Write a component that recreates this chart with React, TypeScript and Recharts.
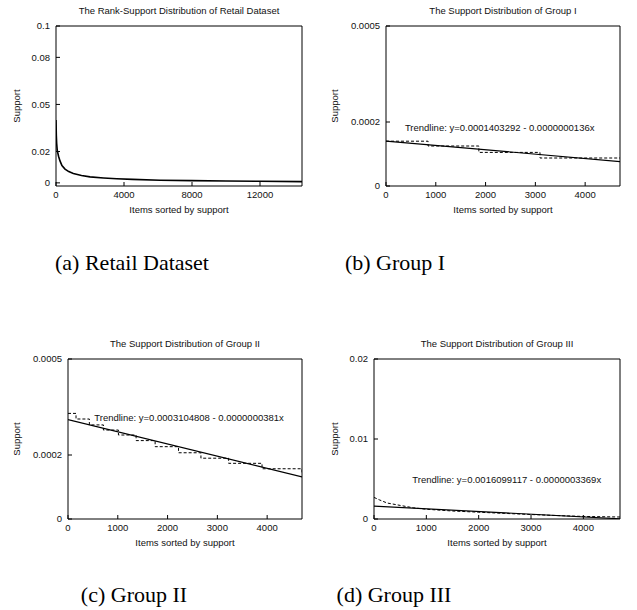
import { LineChart, Line, XAxis, YAxis, ReferenceDot } from 'recharts'

const SANS = '"Liberation Sans", Arial, Helvetica, sans-serif'
const SERIF = '"Liberation Serif", "Times New Roman", serif'
const INK = '#111'

// (a) Retail dataset: items ranked by support
const retailRank = [0, 20, 40, 76, 150, 235, 350, 530, 750, 1020, 1500, 2000, 2800, 3570, 4500, 6120, 8000, 10000, 12000, 14470]
const retailSupport = [0.04, 0.03, 0.025, 0.0205, 0.017, 0.014, 0.011, 0.0088, 0.0072, 0.006, 0.0047, 0.0038, 0.0031, 0.0026, 0.0022, 0.0017, 0.0014, 0.0012, 0.001, 0.0008]
const retailXTicks = [0, 4000, 8000, 12000]
const retailYTicks = [0, 0.02, 0.05, 0.08, 0.1]

// (b) Group I - stepped support values + trendline end points
const g1Rank = [0, 845, 1865, 3093, 4700]
const g1Support = [0.00014, 0.000125, 0.000105, 0.0000875, 0.0000875]
const g1TrendX = [0, 4700]
const g1TrendY = [0.0001403292, 0.0000764]

// (c) Group II
const g2Rank = [0, 161, 429, 711, 1013, 1368, 1750, 2220, 2670, 3226, 3897, 4700]
const g2Support = [0.00033, 0.0003125, 0.000294, 0.000278, 0.0002625, 0.000245, 0.000226, 0.000207, 0.00019, 0.000174, 0.000157, 0.00014]
const g2TrendX = [0, 4700]
const g2TrendY = [0.0003104808, 0.0001314]

// (d) Group III
const g3Rank = [0, 100, 250, 500, 750, 1000, 1500, 2000, 2500, 3000, 3500, 4000, 4700]
const g3Support = [0.0027, 0.0024, 0.002, 0.0017, 0.0014, 0.00122, 0.001, 0.00085, 0.0007, 0.00056, 0.00043, 0.00032, 0.00025]
const g3TrendX = [0, 4700]
const g3TrendY = [0.0016099117, 0.0000265]

const groupXTicks = [0, 1000, 2000, 3000, 4000]
const smallYTicks = [0, 0.0002, 0.0005]
const g3YTicks = [0, 0.01, 0.02]

type Pt = { x: number; y: number }
const zip = (xs: number[], ys: number[]): Pt[] => xs.map((x, i) => ({ x, y: ys[i] }))

interface PanelProps {
  left: number
  top: number
  width: number
  axisW: number
  plotW: number
  title: string
  xDomain: [number, number]
  xTicks: number[]
  yDomain: [number, number]
  yTicks: number[]
  data: Pt[]
  step?: boolean
  trend?: Pt[]
  trendText?: string
  trendAt?: Pt
}

const HEIGHT = 230
const PLOT_H = 160

function Centered({ x, y, text, rotate }: { x: number; y: number; text: string; rotate?: boolean }) {
  return (
    <div
      style={{
        position: 'absolute',
        left: x,
        top: y,
        transform: `translate(-50%, -50%)${rotate ? ' rotate(-90deg)' : ''}`,
        whiteSpace: 'nowrap',
        fontSize: 9.5,
        lineHeight: 1,
        color: INK,
        fontFamily: SANS,
      }}
    >
      {text}
    </div>
  )
}

function Panel(p: PanelProps) {
  const mRight = p.width - p.axisW - p.plotW - 1
  const mBottom = HEIGHT - 25 - 1 - PLOT_H - 30
  const cx = p.axisW + p.plotW / 2
  const tickStyle = { fontSize: 9.5, fill: INK, fontFamily: SANS }

  return (
    <div style={{ position: 'absolute', left: p.left, top: p.top, width: p.width, height: HEIGHT }}>
      <LineChart width={p.width} height={HEIGHT} margin={{ top: 25, right: mRight, bottom: mBottom, left: 0 }}>
        <XAxis
          xAxisId={0}
          dataKey="x"
          type="number"
          domain={p.xDomain}
          ticks={p.xTicks}
          interval={0}
          allowDataOverflow
          height={30}
          tickSize={-4}
          tickMargin={9}
          tick={tickStyle}
          stroke="#000"
        />
        <XAxis
          xAxisId="top"
          orientation="top"
          type="number"
          domain={p.xDomain}
          ticks={p.xTicks}
          interval={0}
          allowDataOverflow
          height={1}
          tickSize={-4}
          tick={false}
          stroke="#000"
        />
        <YAxis
          yAxisId={0}
          type="number"
          domain={p.yDomain}
          ticks={p.yTicks}
          interval={0}
          allowDataOverflow
          width={p.axisW}
          tickSize={-4}
          tickMargin={10}
          tick={tickStyle}
          stroke="#000"
        />
        <YAxis
          yAxisId="right"
          orientation="right"
          type="number"
          domain={p.yDomain}
          ticks={p.yTicks}
          interval={0}
          allowDataOverflow
          width={1}
          tickSize={-4}
          tick={false}
          stroke="#000"
        />
        <Line
          data={p.data}
          dataKey="y"
          type={p.step ? 'stepAfter' : 'linear'}
          stroke="#000"
          strokeWidth={p.trend ? 1 : 1.6}
          strokeDasharray={p.trend ? '3 2' : undefined}
          dot={false}
          isAnimationActive={false}
        />
        {p.trend && (
          <Line
            data={p.trend}
            dataKey="y"
            type="linear"
            stroke="#000"
            strokeWidth={1.2}
            dot={false}
            isAnimationActive={false}
          />
        )}
        {p.trendAt && (
          <ReferenceDot
            x={p.trendAt.x}
            y={p.trendAt.y}
            r={0}
            fill="none"
            stroke="none"
            label={{ value: p.trendText, position: 'right', offset: 0, fill: INK, fontSize: 9.5, fontFamily: SANS }}
          />
        )}
      </LineChart>
      <Centered x={cx} y={11} text={p.title} />
      <Centered x={cx} y={210} text="Items sorted by support" />
      <Centered x={17} y={106} text="Support" rotate />
    </div>
  )
}

function Caption({ cx, cy, text }: { cx: number; cy: number; text: string }) {
  return (
    <div
      style={{
        position: 'absolute',
        left: cx,
        top: cy,
        transform: 'translate(-50%, -50%)',
        whiteSpace: 'nowrap',
        fontFamily: SERIF,
        fontSize: 22,
        lineHeight: 1,
        color: '#000',
      }}
    >
      {text}
    </div>
  )
}

export default function App() {
  return (
    <div style={{ position: 'absolute', left: 0, top: 0, width: 637, height: 610, background: '#fff' }}>
      <Panel
        left={0}
        top={0}
        width={318}
        axisW={56}
        plotW={246}
        title="The Rank-Support Distribution of Retail Dataset"
        xDomain={[0, 14470]}
        xTicks={retailXTicks}
        yDomain={[-0.002, 0.1]}
        yTicks={retailYTicks}
        data={zip(retailRank, retailSupport)}
      />
      <Panel
        left={318}
        top={0}
        width={319}
        axisW={68}
        plotW={234}
        title="The Support Distribution of Group I"
        xDomain={[0, 4700]}
        xTicks={groupXTicks}
        yDomain={[0, 0.0005]}
        yTicks={smallYTicks}
        data={zip(g1Rank, g1Support)}
        step
        trend={zip(g1TrendX, g1TrendY)}
        trendText="Trendline: y=0.0001403292 - 0.0000000136x"
        trendAt={{ x: 380, y: 0.000181 }}
      />
      <Panel
        left={0}
        top={333}
        width={318}
        axisW={68}
        plotW={234}
        title="The Support Distribution of Group II"
        xDomain={[0, 4700]}
        xTicks={groupXTicks}
        yDomain={[0, 0.0005]}
        yTicks={smallYTicks}
        data={zip(g2Rank, g2Support)}
        step
        trend={zip(g2TrendX, g2TrendY)}
        trendText="Trendline: y=0.0003104808 - 0.0000000381x"
        trendAt={{ x: 528, y: 0.000318 }}
      />
      <Panel
        left={318}
        top={333}
        width={319}
        axisW={56}
        plotW={246}
        title="The Support Distribution of Group III"
        xDomain={[0, 4700]}
        xTicks={groupXTicks}
        yDomain={[0, 0.02]}
        yTicks={g3YTicks}
        data={zip(g3Rank, g3Support)}
        trend={zip(g3TrendX, g3TrendY)}
        trendText="Trendline: y=0.0016099117 - 0.0000003369x"
        trendAt={{ x: 732, y: 0.00496 }}
      />
      <Caption cx={132} cy={263} text="(a) Retail Dataset" />
      <Caption cx={395} cy={263} text="(b) Group I" />
      <Caption cx={134} cy={595} text="(c) Group II" />
      <Caption cx={394} cy={595} text="(d) Group III" />
    </div>
  )
}
